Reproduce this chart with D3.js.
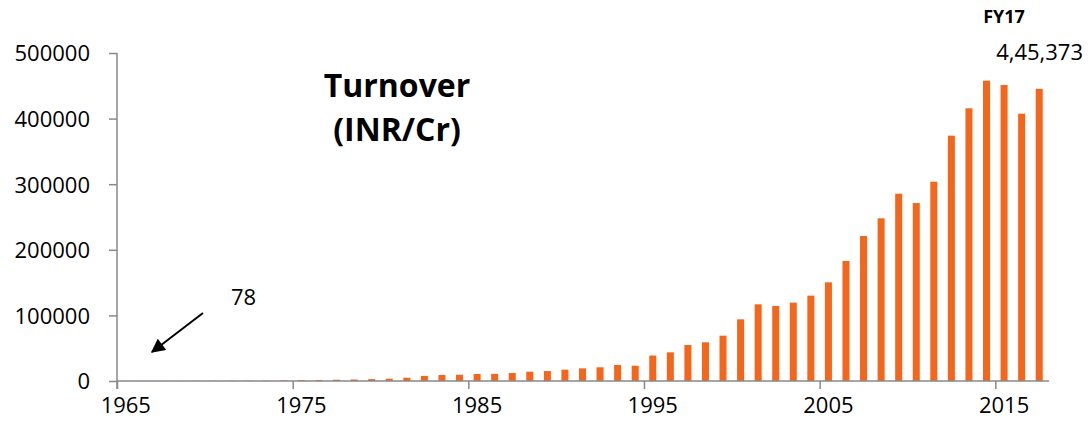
<!DOCTYPE html>
<html>
<head>
<meta charset="utf-8">
<script src="https://cdn.jsdelivr.net/npm/d3@7"></script>
<style>
  body { margin: 0; background: #fff; }
  svg text { font-family: "Open Sans", sans-serif; fill: #000; }
</style>
</head>
<body>
<script>
'use strict';

// turnover by year (INR crore)
const years = d3.range(1965, 2018);
const turnover = [
  78, 110, 140, 180, 230, 290, 360, 450, 600,          // 1965-1973
  1000, 1400, 1600, 2000, 2300, 2900,                  // 1974-1979
  3500, 5000, 7800, 9100, 9500, 10700, 10900, 12200, 14200, 15200,   // 1980-1989
  17300, 19300, 20900, 24400, 23300, 38800, 43700, 54900, 59000, 69100, // 1990-1999
  94000, 116900, 114300, 119400, 130100, 150400, 182900, 221000, 248000, 285500, // 2000-2009
  271300, 303800, 374000, 415700, 457800, 451200, 407500, 445373     // 2010-2017
];
const yTicks = [0, 100000, 200000, 300000, 400000, 500000];
const xTickYears = [1965, 1975, 1985, 1995, 2005, 2015];

(function() {
  const width = 1088, height = 433;
  const axisColor = '#898989';
  const barColor = '#F4661B';

  const svg = d3.select('body')
    .append('svg')
    .attr('width', width)
    .attr('height', height);

  // indian digit grouping, e.g. 4,45,373
  function formatIndian(n) {
    const s = String(n);
    if (s.length <= 3) return s;
    let head = s.slice(0, -3), tail = s.slice(-3);
    head = head.replace(/\B(?=(\d{2})+(?!\d))/g, ',');
    return head + ',' + tail;
  }

  // scales
  const x = d3.scaleBand()
    .domain(years)
    .range([117, 1048])
    .paddingInner(0.6)
    .paddingOuter(0.3);

  // year boundaries for the tick marks
  const xEdge = d3.scaleLinear()
    .domain([1965, 2018])
    .range([117, 1048]);

  const y = d3.scaleLinear()
    .domain([0, 500000])
    .range([381, 53]);

  // bars
  svg.selectAll('.bar')
    .data(years.map((yr, i) => ({ year: yr, value: turnover[i] })))
    .enter()
    .append('rect')
      .attr('class', 'bar')
      .attr('x', d => x(d.year))
      .attr('width', x.bandwidth())
      .attr('y', d => y(d.value))
      .attr('height', d => y(0) - y(d.value))
      .attr('fill', barColor);

  // y axis
  const yAxis = svg.append('g')
    .attr('transform', 'translate(117,0)')
    .call(d3.axisLeft(y).tickValues(yTicks).tickSize(8).tickPadding(19).tickFormat(d3.format('d')));
  yAxis.select('.domain').attr('stroke', axisColor).attr('stroke-width', 1.5)
    .attr('d', 'M0,53V389');
  yAxis.selectAll('.tick line').attr('stroke', axisColor).attr('stroke-width', 1.5);
  yAxis.selectAll('.tick text')
    .style('font-size', '22px')
    .attr('dy', '0.36em');

  // x axis: tick marks at year boundaries
  const xTickAxis = svg.append('g')
    .attr('transform', 'translate(0,381)')
    .call(d3.axisBottom(xEdge).tickValues(xTickYears).tickSize(8).tickFormat(''));
  xTickAxis.select('.domain').attr('stroke', axisColor).attr('stroke-width', 1.5)
    .attr('d', 'M117,0H1049');
  xTickAxis.selectAll('.tick line').attr('stroke', axisColor).attr('stroke-width', 1.5);

  // x axis labels centred on the categories
  const xLabelAxis = svg.append('g')
    .attr('transform', 'translate(0,381)')
    .call(d3.axisBottom(x).tickValues(xTickYears).tickSize(0).tickPadding(24));
  xLabelAxis.select('.domain').remove();
  xLabelAxis.selectAll('.tick text')
    .style('font-size', '22px')
    .attr('dy', '0.36em');

  // title
  svg.append('text')
    .attr('x', 397)
    .attr('y', 97)
    .attr('text-anchor', 'middle')
    .style('font-size', '32px')
    .style('font-weight', 'bold')
    .text('Turnover');

  svg.append('text')
    .attr('x', 397)
    .attr('y', 141)
    .attr('text-anchor', 'middle')
    .style('font-size', '32px')
    .style('font-weight', 'bold')
    .text('(INR/Cr)');

  // FY17 annotation
  svg.append('text')
    .attr('x', 1004)
    .attr('y', 23)
    .attr('text-anchor', 'middle')
    .style('font-size', '18px')
    .style('font-weight', 'bold')
    .text('FY17');

  svg.append('text')
    .attr('x', 1083)
    .attr('y', 60)
    .attr('text-anchor', 'end')
    .style('font-size', '22px')
    .text(formatIndian(turnover[turnover.length - 1]));

  // first-year annotation with arrow
  const defs = svg.append('defs');
  defs.append('marker')
    .attr('id', 'arrowhead')
    .attr('viewBox', '0 0 10 10')
    .attr('refX', 9)
    .attr('refY', 5)
    .attr('markerWidth', 8)
    .attr('markerHeight', 7)
    .attr('orient', 'auto')
    .append('path')
      .attr('d', 'M0,0L10,5L0,10z')
      .attr('fill', '#000');

  svg.append('line')
    .attr('x1', 203)
    .attr('y1', 313)
    .attr('x2', 152)
    .attr('y2', 352)
    .attr('stroke', '#000')
    .attr('stroke-width', 2)
    .attr('marker-end', 'url(#arrowhead)');

  svg.append('text')
    .attr('x', 231)
    .attr('y', 305)
    .style('font-size', '22px')
    .text(turnover[0]);
})();
</script>
</body>
</html>
